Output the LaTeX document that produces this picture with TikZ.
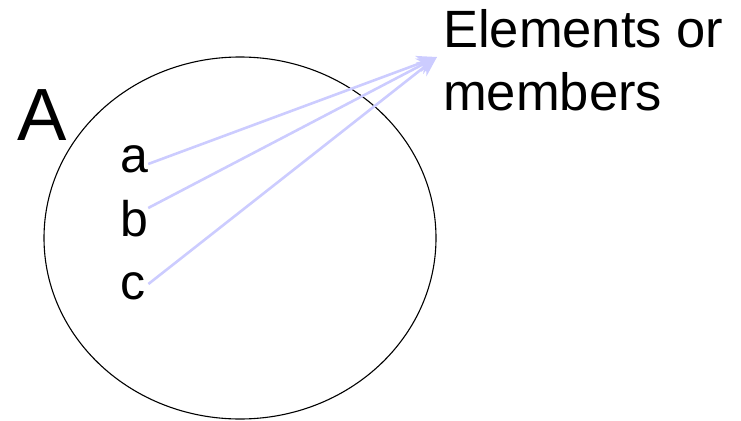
\documentclass[tikz,border=0pt]{standalone}
\usepackage{fontspec}
\setmainfont{Liberation Sans}
\usetikzlibrary{arrows.meta}
\definecolor{arrowlav}{RGB}{204,204,255}
\tikzset{
  elem/.style={inner sep=0pt, anchor=base west, font=\fontsize{50}{50}\selectfont},
  caption/.style={inner sep=0pt, anchor=base west, font=\fontsize{52.5}{52.5}\selectfont},
  pointer/.style={draw=arrowlav, line width=2.6pt, -{Stealth[length=20pt,width=17pt,inset=6pt]}},
  setoutline/.style={draw=black, line width=1.1pt}
}
\begin{document}
\begin{tikzpicture}[x=1pt,y=-1pt]
\useasboundingbox (0,0) rectangle (741,420);
\draw[setoutline] (240,238) ellipse [x radius=196, y radius=181];
\node[inner sep=0pt, anchor=base west, font=\fontsize{74}{74}\selectfont] (setA) at (17,140) {A};
\node[elem] (a) at (120,172) {a};
\node[elem] (b) at (120,236) {b};
\node[elem] (c) at (120,299) {c};
\node[caption] (lab1) at (443,48) {Elements or};
\node[caption] (lab2) at (443,110) {members};
\coordinate (tip) at (437,57);
\draw[pointer] ([xshift=0pt,yshift=8pt]a.base east) -- (tip);
\draw[pointer] ([xshift=0pt,yshift=28pt]b.base east) -- (tip);
\draw[pointer] ([xshift=3pt,yshift=15pt]c.base east) -- (tip);
\end{tikzpicture}
\end{document}
